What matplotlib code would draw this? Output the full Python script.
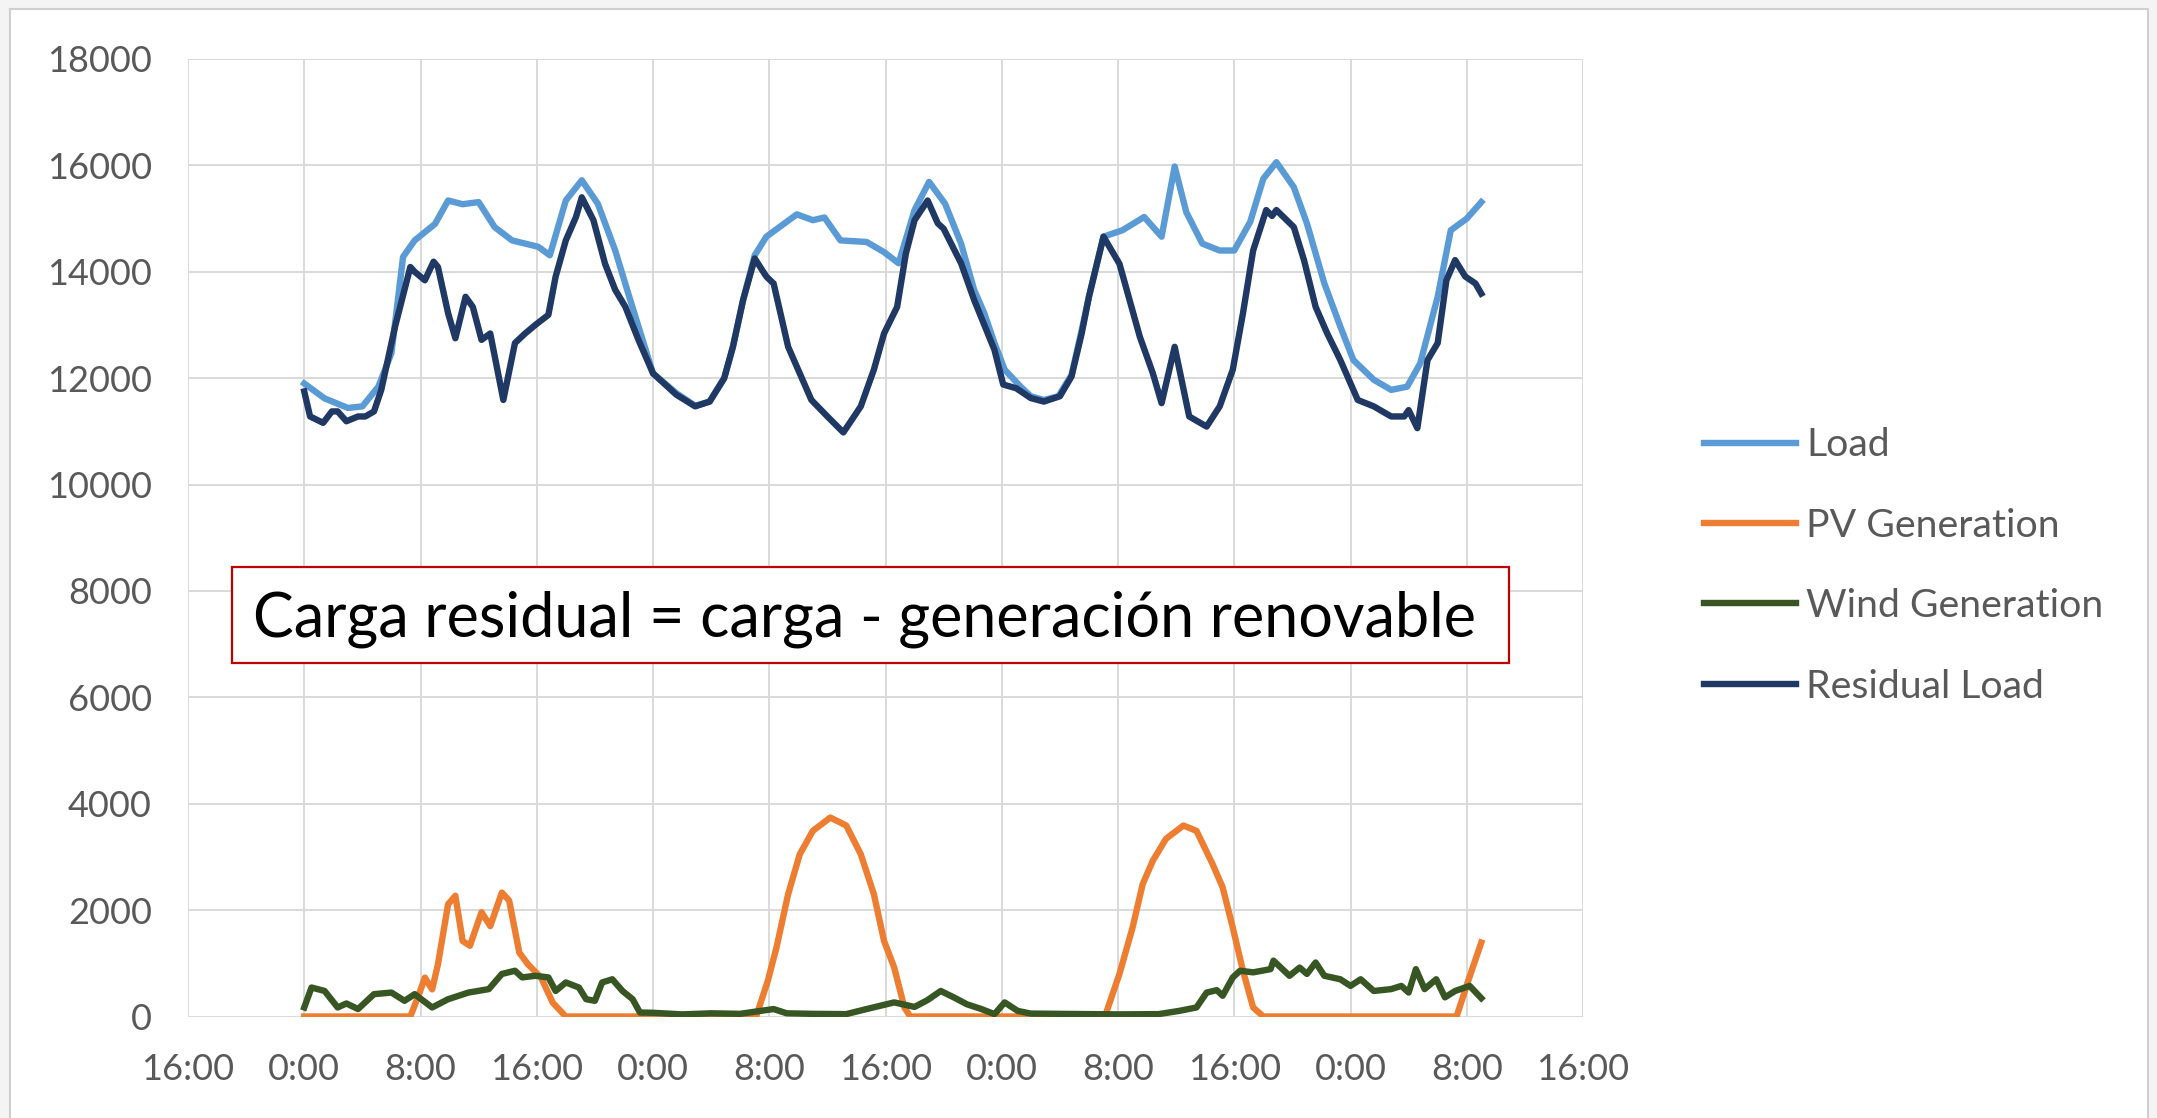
import matplotlib.pyplot as plt
from matplotlib.patches import Rectangle

# Hours since the first midnight, values in MW
load_hours = [0, 1.4, 3, 4, 5.1, 6, 6.8, 7.6, 9, 9.9, 10.9, 12, 13.1, 14.3, 15.2, 16.1, 16.9,
              18, 19.1, 20.2, 21.4, 22.3, 23, 24, 25.6, 26.9, 27.9, 28.9, 29.5, 30.2, 31,
              31.8, 32.7, 33.9, 35, 35.8, 36.9, 38.7, 39.9, 40.9, 42, 43, 44.1, 45.2, 46.1,
              46.8, 47.5, 48.2, 49.3, 50, 50.9, 51.9, 52.8, 53.5, 54, 55, 56.3, 57.8, 59,
              59.9, 60.7, 61.8, 63, 64, 65.1, 66, 66.9, 68.1, 69, 70.2, 71.3, 72.2, 73.6,
              74.8, 75.9, 76.8, 78, 78.9, 80, 81]
load = [11900, 11620, 11440, 11470, 11840, 12470, 14280, 14590, 14900, 15340, 15270, 15310,
        14840, 14590, 14530, 14470, 14310, 15340, 15720, 15280, 14400, 13590, 12970, 12090,
        11720, 11480, 11560, 12000, 12590, 13470, 14310, 14660, 14840, 15080, 14970, 15020,
        14590, 14560, 14370, 14160, 15160, 15690, 15280, 14530, 13660, 13220, 12660, 12160,
        11840, 11660, 11590, 11660, 12060, 12900, 13530, 14660, 14780, 15030, 14660, 15980,
        15120, 14530, 14400, 14400, 14940, 15750, 16060, 15590, 14910, 13780, 12970, 12340,
        11970, 11780, 11840, 12280, 13530, 14780, 15000, 15310]

pv_hours = [0, 7.3, 7.9, 8.3, 8.8, 9.2, 9.9, 10.4, 10.9, 11.4, 12.2, 12.8, 13.6, 14.1, 14.8,
            15.4, 16.3, 17.1, 18, 31.1, 31.9, 32.5, 33.3, 34.1, 35, 36.2, 37.3, 38.3, 39.2,
            39.9, 40.6, 41.3, 41.7, 55.1, 56.1, 57, 57.7, 58.4, 59.3, 60.5, 61.4, 62.5,
            63.2, 63.9, 64.6, 65.3, 66, 79.3, 80.1, 81]
pv = [0, 0, 420, 730, 510, 980, 2110, 2270, 1420, 1330, 1960, 1700, 2330, 2180, 1200, 980,
      730, 260, 0, 0, 670, 1300, 2300, 3050, 3490, 3740, 3590, 3050, 2300, 1420, 920, 170, 0,
      0, 800, 1670, 2490, 2930, 3340, 3590, 3490, 2870, 2430, 1670, 860, 170, 0, 0, 670, 1390]

wind_hours = [0, 0.5, 1.4, 2.3, 2.9, 3.7, 4.8, 6, 6.9, 7.6, 8.8, 9.9, 11.3, 12.7, 13.6, 14.5,
              15, 15.9, 16.8, 17.3, 18, 18.9, 19.4, 20, 20.5, 21.2, 21.9, 22.6, 23.1, 24, 26,
              28, 30, 31, 32.3, 33.2, 35, 37.3, 38.7, 40.6, 42, 42.9, 43.8, 44.7, 45.6, 46.6,
              47.5, 48.2, 49.1, 50, 52, 54, 56, 58.8, 60.2, 61.4, 62.1, 62.8, 63.2, 63.9,
              64.4, 65.3, 66.5, 66.7, 67.8, 68.5, 69, 69.6, 70.2, 71.3, 72, 72.7, 73.6, 74.8,
              75.5, 76, 76.5, 77.1, 77.9, 78.5, 79.2, 80.2, 81]
wind = [170, 545, 480, 170, 245, 140, 420, 450, 295, 420, 170, 325, 450, 515, 800, 860, 735,
        765, 735, 480, 640, 545, 325, 295, 640, 700, 480, 325, 75, 70, 40, 60, 50, 90, 140, 60,
        50, 45, 140, 265, 180, 310, 480, 360, 230, 140, 45, 265, 105, 55, 50, 45, 40, 45, 105,
        170, 450, 495, 390, 735, 860, 830, 890, 1050, 765, 920, 800, 1015, 765, 700, 575, 700,
        480, 515, 575, 450, 890, 515, 700, 360, 480, 575, 345]

residual_hours = [0, 0.4, 1.3, 1.9, 2.3, 2.9, 3.7, 4.2, 4.8, 5.3, 6.25, 7.3, 7.6, 8.3, 8.9,
                  9.2, 9.9, 10.4, 11.1, 11.6, 12.2, 12.8, 13.7, 14.5, 15.2, 15.9, 16.8, 17.3,
                  18, 18.7, 19.1, 19.9, 20.7, 21.4, 22.1, 23, 24, 25.6, 26.9, 27.9, 28.9,
                  29.5, 30.2, 31, 31.8, 32.3, 33.3, 34.9, 36, 37.1, 38.3, 39.2, 39.9, 40.8,
                  41.4, 42, 42.9, 43.6, 44, 45.2, 46.1, 47.5, 48.1, 49, 50, 50.9, 52, 52.8,
                  53.5, 54, 55, 56.1, 57.5, 58.4, 59, 59.9, 60.9, 62.1, 63, 63.9, 64.6, 65.3,
                  66.2, 66.6, 66.9, 68.1, 68.8, 69.6, 70.4, 71.3, 72.5, 73.6, 74.8, 75.7, 76,
                  76.6, 77.3, 78, 78.6, 79.2, 79.9, 80.6, 81]
residual = [11750, 11280, 11160, 11375, 11375, 11190, 11280, 11280, 11375, 11780, 12970,
            14090, 14000, 13840, 14190, 14090, 13220, 12750, 13530, 13340, 12720, 12840, 11590,
            12660, 12840, 13000, 13190, 13910, 14590, 15030, 15400, 14970, 14150, 13660, 13340,
            12720, 12090, 11690, 11470, 11560, 12000, 12590, 13470, 14250, 13910, 13780, 12590,
            11590, 11280, 10980, 11470, 12160, 12840, 13340, 14340, 14970, 15340, 14910, 14810,
            14160, 13470, 12530, 11880, 11810, 11625, 11560, 11660, 12030, 12840, 13530, 14660,
            14150, 12780, 12090, 11530, 12590, 11280, 11090, 11470, 12160, 13220, 14400, 15160,
            15050, 15160, 14840, 14220, 13340, 12840, 12340, 11590, 11470, 11280, 11280, 11400,
            11060, 12340, 12660, 13840, 14220, 13910, 13780, 13590]

tick_hours = list(range(-8, 89, 8))
tick_labels = ["16:00", "0:00", "8:00"] * 4 + ["16:00"]

note = "Carga residual = carga - generación renovable"

W, H = 2157, 1118


def main():
    plt.rcParams['font.family'] = ['Lato', 'DejaVu Sans']
    fig = plt.figure(figsize=(W / 100, H / 100), dpi=100, facecolor='#f4f4f4')

    # white chart panel with a thin grey frame
    fig.add_artist(Rectangle((10 / W, -0.05), 2138 / W, 1.05 - 9 / H, transform=fig.transFigure,
                             facecolor='white', edgecolor='#d0d0d0', lw=1.5, zorder=0))

    ax = fig.add_axes([188 / W, 1 - 1016.5 / H, 1395 / W, 957.5 / H])
    ax.set_facecolor('none')

    lw = 4.6
    ax.plot(load_hours, load, color='#5B9BD5', lw=lw, label='Load', solid_joinstyle='round')
    ax.plot(pv_hours, pv, color='#ED7D31', lw=lw, label='PV Generation', solid_joinstyle='round')
    ax.plot(wind_hours, wind, color='#375623', lw=lw, label='Wind Generation', solid_joinstyle='round')
    ax.plot(residual_hours, residual, color='#1F3864', lw=lw, label='Residual Load', solid_joinstyle='round')

    ax.set_xlim(-8, 88)
    ax.set_ylim(0, 18000)
    ax.set_xticks(tick_hours)
    ax.set_xticklabels(tick_labels)
    ax.set_yticks(range(0, 18001, 2000))
    ax.tick_params(length=0, labelsize=26, labelcolor='#595959', pad=26)
    ax.grid(color='#d9d9d9', lw=1.4)
    ax.set_axisbelow(True)
    for s in ax.spines.values():
        s.set_visible(False)

    fig.legend(loc='center left', bbox_to_anchor=(1704 / W, 1 - 566 / H), frameon=False,
               fontsize=28.3, labelcolor='#595959', handlelength=2.35, handletextpad=0.25,
               labelspacing=1.13, borderpad=0, borderaxespad=0)

    # red framed note in the middle of the chart
    fig.add_artist(Rectangle((232 / W, 1 - 663 / H), 1277 / W, 96 / H, transform=fig.transFigure,
                             facecolor='white', edgecolor='#C00000', lw=1.6, zorder=5))
    fig.text(253 / W, 1 - 619 / H, note, fontsize=44, color='black', ha='left', va='center',
             zorder=6)

    plt.savefig("out.png", dpi=100, facecolor=fig.get_facecolor())
    plt.close(fig)


if __name__ == '__main__':
    main()
